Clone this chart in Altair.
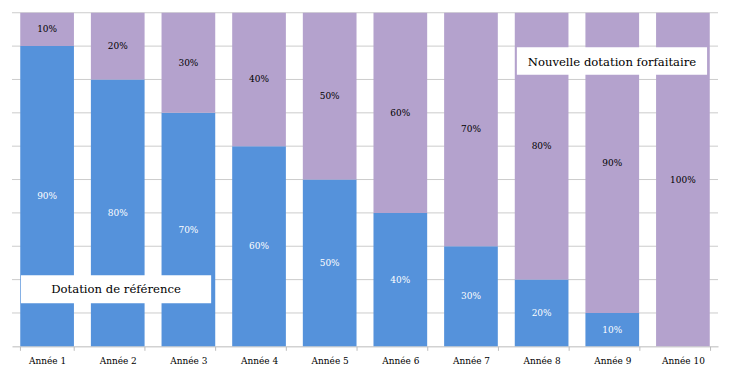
import altair as alt
import pandas as pd

years = ["Année 1", "Année 2", "Année 3", "Année 4", "Année 5",
         "Année 6", "Année 7", "Année 8", "Année 9", "Année 10"]
ref_share = [90, 80, 70, 60, 50, 40, 30, 20, 10, 0]
new_share = [10, 20, 30, 40, 50, 60, 70, 80, 90, 100]
grid_vals = [10, 20, 30, 40, 50, 60, 70, 80, 90, 100]
series = ["Dotation de référence", "Nouvelle dotation forfaitaire"]
colors = ["#5592DB", "#B4A2CD"]

rows = []
for i, y in enumerate(years):
    rows.append({"year": y, "series": series[0], "value": ref_share[i], "ord": 0})
    rows.append({"year": y, "series": series[1], "value": new_share[i], "ord": 1})
df = pd.DataFrame(rows)

FONT = "DejaVu Serif"

base = alt.Chart(df).transform_stack(
    stack="value", groupby=["year"], as_=["v0", "v1"], sort=[alt.SortField("ord")]
).transform_calculate(mid="(datum.v0 + datum.v1) / 2")

xenc = alt.X("year:N", sort=years, title=None,
             scale=alt.Scale(paddingInner=0.24, paddingOuter=0.117),
             axis=alt.Axis(labelAngle=0, labelFont=FONT, labelFontSize=9, labelColor="#000",
                           tickBand="extent", tickColor="#bbbbbb", domainColor="#bbbbbb",
                           tickSize=4, labelPadding=6))
yscale = alt.Scale(domain=[0, 100], nice=False)

grid = alt.Chart(pd.DataFrame({"g": grid_vals})).mark_rule(color="#cccccc", strokeWidth=1).encode(
    y=alt.Y("g:Q", scale=yscale, title=None,
            axis=alt.Axis(labels=False, ticks=False, domain=False, grid=False)),
)

bars = base.mark_bar().encode(
    x=xenc,
    y=alt.Y("v0:Q", scale=yscale),
    y2="v1:Q",
    color=alt.Color("series:N", scale=alt.Scale(domain=series, range=colors), legend=None),
)

labels = base.transform_filter("datum.value > 0").transform_calculate(
    lab="datum.value + '%'"
).mark_text(font=FONT, fontSize=9).encode(
    x=alt.X("year:N", sort=years),
    y=alt.Y("mid:Q", scale=yscale),
    text="lab:N",
    color=alt.condition(alt.datum.series == series[0], alt.value("white"), alt.value("black")),
)

box1 = alt.Chart(pd.DataFrame({"t": [series[0]]})).mark_rect(fill="white").encode(
    x=alt.value(9), x2=alt.value(200), y=alt.value(263.7), y2=alt.value(291.7))
txt1 = alt.Chart(pd.DataFrame({"t": [series[0]]})).mark_text(
    font=FONT, fontSize=11.7, color="black").encode(
    x=alt.value(104.5), y=alt.value(277.7), text="t:N")
box2 = alt.Chart(pd.DataFrame({"t": [series[1]]})).mark_rect(fill="white").encode(
    x=alt.value(507), x2=alt.value(698), y=alt.value(34.7), y2=alt.value(62.3))
txt2 = alt.Chart(pd.DataFrame({"t": [series[1]]})).mark_text(
    font=FONT, fontSize=11.7, color="black").encode(
    x=alt.value(602.5), y=alt.value(49), text="t:N")

chart = alt.layer(grid, bars, labels, box1, txt1, box2, txt2).properties(
    width=709, height=335, background="white",
    padding={"left": 3, "top": 3, "right": 5, "bottom": 5},
).configure_view(stroke=None)

chart.save("out.html", embed_options={"renderer": "svg", "actions": False})
